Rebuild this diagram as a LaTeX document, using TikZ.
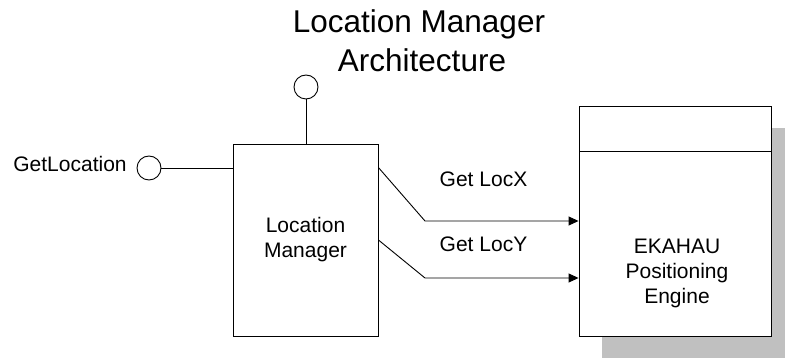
\documentclass[tikz,border=0pt]{standalone}
\usepackage{fontspec}
\setmainfont{Liberation Sans}
\usetikzlibrary{arrows.meta,calc}
\begin{document}
\begin{tikzpicture}[x=1pt,y=-1pt,
  line width=0.9pt,
  box/.style={draw,fill=white,line width=0.9pt,inner sep=0pt},
  port/.style={draw,circle,fill=white,minimum size=24pt,inner sep=0pt},
  txt/.style={font=\fontsize{21}{25}\selectfont,inner sep=0pt,align=center},
  flow/.style={-{Triangle[length=10pt,width=9pt]}}
]
\useasboundingbox (0,0) rectangle (785,358);
% title
\node[font=\fontsize{31.5}{36}\selectfont,anchor=base,inner sep=0pt] (t1) at (419,33) {Location Manager};
\node[font=\fontsize{31.5}{36}\selectfont,anchor=base,inner sep=0pt] (t2) at (422,72) {Architecture};
% shadow
\fill[fill={rgb,255:red,192;green,192;blue,192}] (602,128) rectangle (794,358);
% boxes
\node[box,minimum width=192pt,minimum height=230pt] (pe) at (675,221) {};
\draw (579,151) coordinate (d1) -- (771,151) coordinate (d2);
\node[txt] (pet) at (677,273) {EKAHAU\\Positioning\\Engine};
\node[box,txt,minimum width=145pt,minimum height=192pt] (lm) at (305.5,240) {Location\\Manager};
% ports
\node[port] (c1) at (306,87) {};
\node[port] (c2) at (149,168) {};
\node[txt,anchor=base] (gl) at (70,172) {GetLocation};
\draw (c1.south) -- (lm.north -| c1);
\draw (c2.east) -- (c2 -| lm.west);
% flows
\coordinate (b1) at (425,221);
\coordinate (b2) at (425,278);
\draw[flow] ($(lm.north east)+(0,24)$) -- (b1) -- (pe.west);
\draw[flow] (lm.east) -- (b2) -- (b2 -| pe.west);
\node[txt,anchor=base] (lx) at (483.5,187) {Get LocX};
\node[txt,anchor=base] (ly) at (483.5,252) {Get LocY};
\end{tikzpicture}
\end{document}
